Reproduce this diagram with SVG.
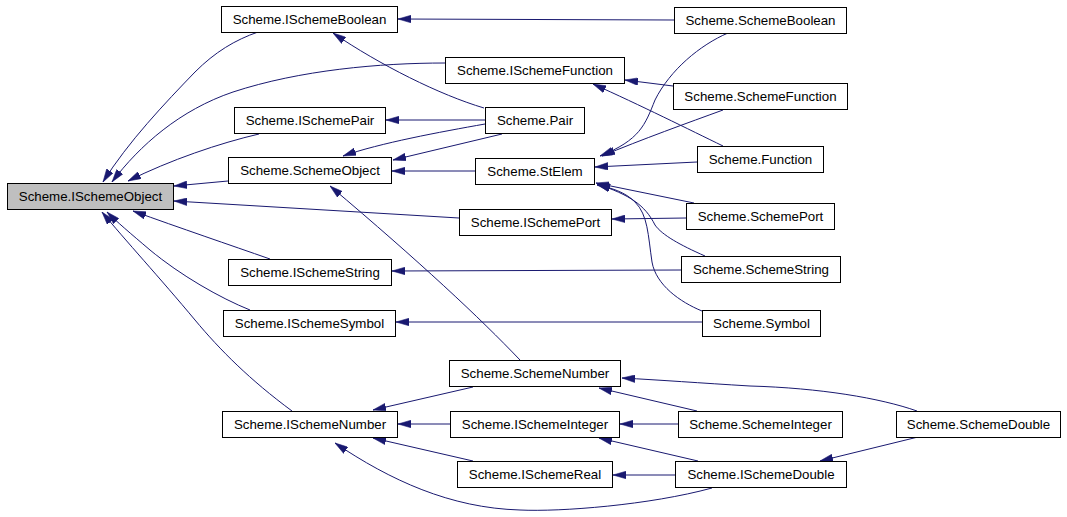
<svg xmlns="http://www.w3.org/2000/svg" width="1067" height="517" viewBox="0 0 1067 517">
<style>
.n rect{fill:#ffffff;stroke:#000000;stroke-width:1}
.n text{font-family:"Liberation Sans",Arial,sans-serif;font-size:13.3px;text-anchor:middle;fill:#000000}
#n1 rect{fill:#bfbfbf}
.e path{fill:none;stroke:#191970;stroke-width:1;marker-end:url(#ah)}
</style>
<defs>
<marker id="ah" markerUnits="userSpaceOnUse" markerWidth="13" markerHeight="8" viewBox="0 0 12 7" refX="12" refY="3.5" orient="auto">
<path d="M0,0 L12,3.5 L0,7 z" fill="#191970" stroke="#191970" stroke-width="0.5"/>
</marker>
</defs>
<rect width="1067" height="517" fill="#ffffff"/>
<g id="edges" class="e">
<path d="M258,32 C235,40 215,52 195,72 C165,103 128,142 103,182"/>
<path d="M445,63 C380,63 300,70 233,92 C180,110 140,145 112,182"/>
<path d="M259,134 C220,143 170,160 128,181"/>
<path d="M228,181 L174,186"/>
<path d="M459,218 L174,201"/>
<path d="M270,259 C230,245 180,228 133,211"/>
<path d="M250,310 C220,298 180,275 150,250 C130,233 117,222 107,212"/>
<path d="M292,411 C250,380 220,350 195,320 C160,278 125,240 102,212"/>
<path d="M674,20 L398,19"/>
<path d="M484,108 C440,95 380,65 333,33"/>
<path d="M673,86 L625,80"/>
<path d="M723,146 C690,130 640,105 593,84"/>
<path d="M485,120 L386,120"/>
<path d="M485,124 C440,132 380,143 343,156"/>
<path d="M502,134 L393,160"/>
<path d="M475,171 L392,171"/>
<path d="M520,360 C480,318 420,262 330,186"/>
<path d="M728,33 C700,45 670,70 655,100 C645,125 640,140 600,156"/>
<path d="M723,110 C690,122 640,140 602,156"/>
<path d="M697,162 L595,167"/>
<path d="M694,203 L596,183"/>
<path d="M705,256 C680,245 662,235 655,225 C645,205 630,195 597,184"/>
<path d="M702,311 C680,302 656,285 652,262 C648,235 648,215 635,202 C625,192 612,188 597,185"/>
<path d="M686,218 L612,219"/>
<path d="M681,270 L392,271"/>
<path d="M702,322 L396,322"/>
<path d="M473,387 L373,410"/>
<path d="M450,424 L398,424"/>
<path d="M473,461 L373,438"/>
<path d="M712,488 C650,505 560,512 520,510 C450,508 390,480 335,443"/>
<path d="M917,411 C880,398 820,388 750,386 C700,383 660,380 622,378"/>
<path d="M697,411 L599,388"/>
<path d="M678,424 L620,424"/>
<path d="M698,461 L599,438"/>
<path d="M675,475 L613,475"/>
<path d="M918,437 L820,461"/>
</g>
<g id="n1" class="n"><rect x="7.5" y="183.5" width="166" height="26"/><text x="90.5" y="201">Scheme.ISchemeObject</text></g>
<g id="n2" class="n"><rect x="221.5" y="6.5" width="176" height="26"/><text x="309.5" y="24">Scheme.ISchemeBoolean</text></g>
<g id="n3" class="n"><rect x="445.5" y="57.5" width="179" height="26"/><text x="535" y="75">Scheme.ISchemeFunction</text></g>
<g id="n4" class="n"><rect x="234.5" y="107.5" width="151" height="26"/><text x="310" y="125">Scheme.ISchemePair</text></g>
<g id="n5" class="n"><rect x="228.5" y="157.5" width="163" height="26"/><text x="310" y="175">Scheme.SchemeObject</text></g>
<g id="n6" class="n"><rect x="485.5" y="107.5" width="99" height="26"/><text x="535" y="125">Scheme.Pair</text></g>
<g id="n7" class="n"><rect x="475.5" y="158.5" width="119" height="26"/><text x="535" y="176">Scheme.StElem</text></g>
<g id="n8" class="n"><rect x="459.5" y="209.5" width="152" height="26"/><text x="535.5" y="227">Scheme.ISchemePort</text></g>
<g id="n9" class="n"><rect x="228.5" y="259.5" width="163" height="26"/><text x="310" y="277">Scheme.ISchemeString</text></g>
<g id="n10" class="n"><rect x="223.5" y="310.5" width="172" height="26"/><text x="309.5" y="328">Scheme.ISchemeSymbol</text></g>
<g id="n11" class="n"><rect x="222.5" y="411.5" width="175" height="26"/><text x="310" y="429">Scheme.ISchemeNumber</text></g>
<g id="n12" class="n"><rect x="449.5" y="360.5" width="171" height="26"/><text x="535" y="378">Scheme.SchemeNumber</text></g>
<g id="n13" class="n"><rect x="450.5" y="411.5" width="169" height="26"/><text x="535" y="429">Scheme.ISchemeInteger</text></g>
<g id="n14" class="n"><rect x="457.5" y="461.5" width="155" height="26"/><text x="535" y="479">Scheme.ISchemeReal</text></g>
<g id="n15" class="n"><rect x="674.5" y="7.5" width="172" height="26"/><text x="760.5" y="25">Scheme.SchemeBoolean</text></g>
<g id="n16" class="n"><rect x="673.5" y="83.5" width="174" height="26"/><text x="760.5" y="101">Scheme.SchemeFunction</text></g>
<g id="n17" class="n"><rect x="697.5" y="146.5" width="126" height="26"/><text x="760.5" y="164">Scheme.Function</text></g>
<g id="n18" class="n"><rect x="686.5" y="203.5" width="148" height="26"/><text x="760.5" y="221">Scheme.SchemePort</text></g>
<g id="n19" class="n"><rect x="681.5" y="256.5" width="159" height="26"/><text x="761" y="274">Scheme.SchemeString</text></g>
<g id="n20" class="n"><rect x="702.5" y="310.5" width="118" height="26"/><text x="761.5" y="328">Scheme.Symbol</text></g>
<g id="n21" class="n"><rect x="678.5" y="411.5" width="164" height="26"/><text x="760.5" y="429">Scheme.SchemeInteger</text></g>
<g id="n22" class="n"><rect x="675.5" y="461.5" width="171" height="26"/><text x="761" y="479">Scheme.ISchemeDouble</text></g>
<g id="n23" class="n"><rect x="896.5" y="411.5" width="164" height="26"/><text x="978.5" y="429">Scheme.SchemeDouble</text></g>
</svg>
